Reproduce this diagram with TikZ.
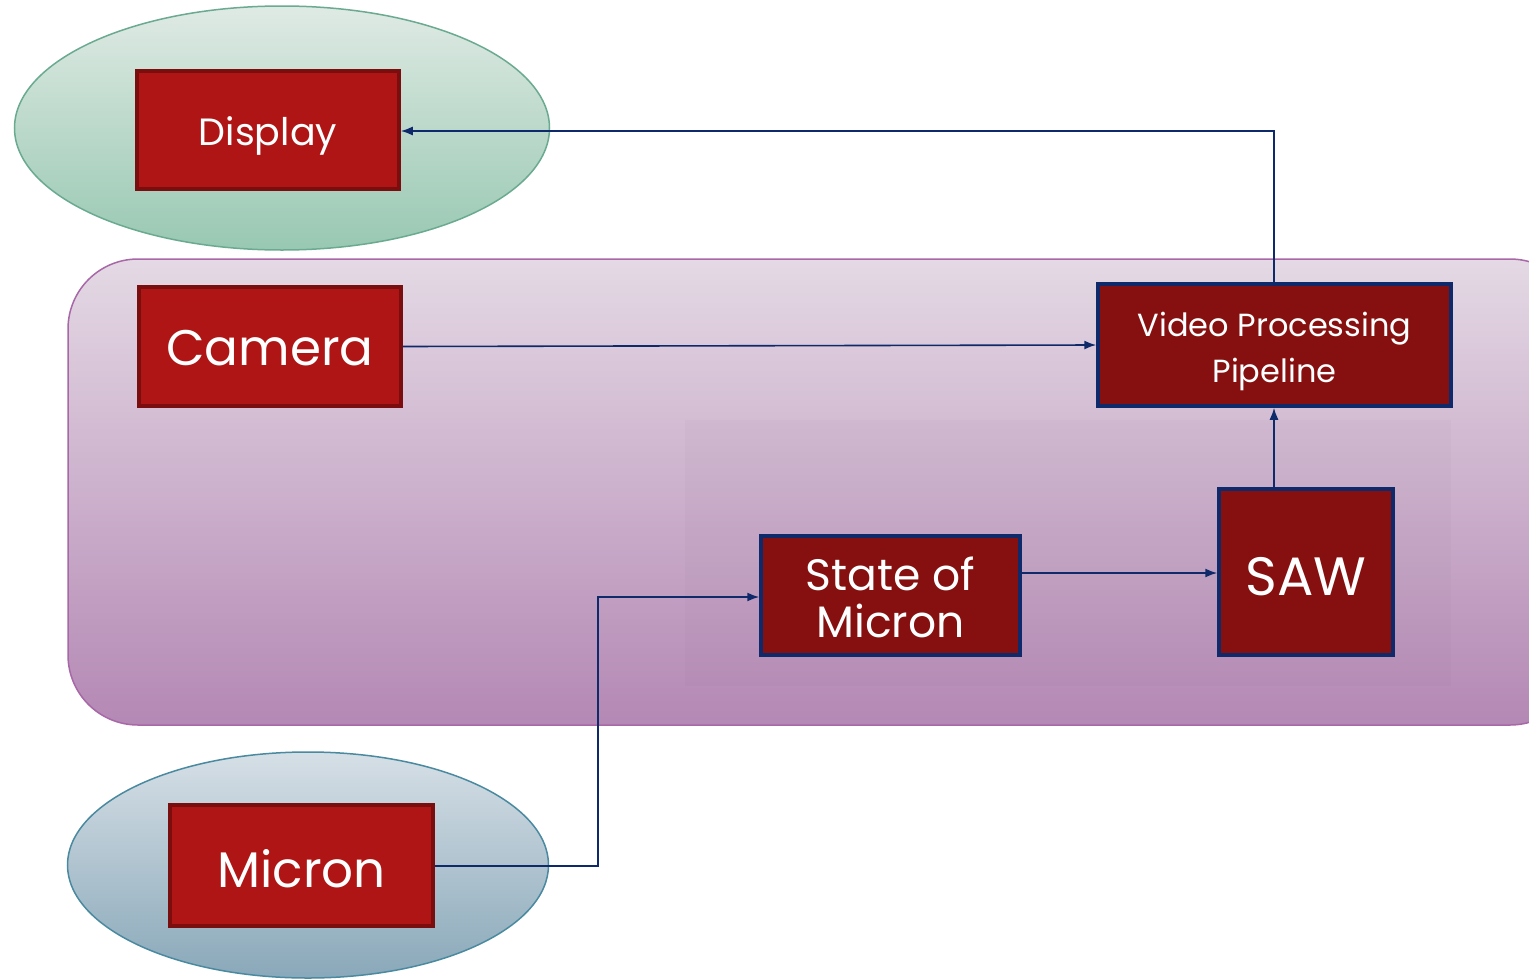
\documentclass[tikz,border=0pt]{standalone}
\usepackage{fontspec}
\setmainfont{Poppins}
\usetikzlibrary{shapes.geometric,arrows.meta}
\definecolor{navy}{HTML}{0F2A6A}
\definecolor{redA}{HTML}{B01515}
\definecolor{redAb}{HTML}{7A0E0E}
\definecolor{redB}{HTML}{86100F}
\definecolor{purpBorder}{HTML}{A868A8}
\definecolor{purpTop}{HTML}{E4D9E4}
\definecolor{purpBot}{HTML}{B488B4}
\definecolor{greenBorder}{HTML}{6AAA90}
\definecolor{greenTop}{HTML}{DFEAE4}
\definecolor{greenBot}{HTML}{98C8B2}
\definecolor{blueBorder}{HTML}{4A8AA0}
\definecolor{blueTop}{HTML}{D6DFE6}
\definecolor{blueBot}{HTML}{89A8B9}
\tikzset{
  boxA/.style={rectangle, fill=redA, draw=redAb, line width=3.5pt, inner sep=0pt},
  boxB/.style={rectangle, fill=redB, draw=navy, line width=3.5pt, inner sep=0pt},
  txt/.style={text=white, align=center, inner sep=0pt},
  conn/.style={draw=navy, line width=1.6pt, -{Latex[length=12pt,width=9pt]}},
  ell/.style={ellipse, inner sep=0pt, line width=1.5pt},
}
\begin{document}
\begin{tikzpicture}[x=1pt,y=-1pt]
\useasboundingbox (0,0) rectangle (1529,980);
\clip (0,0) rectangle (1529,980);
\fill[white] (0,0) rectangle (1529,980);
% big rounded container
\draw[line width=1.5pt, draw=purpBorder, rounded corners=70pt, top color=purpTop, bottom color=purpBot] (68,259) rectangle (1580,725);
% inner subtle rectangle
\fill[purpBot!60!black, opacity=0.035] (685,420) rectangle (1451,686);
% ellipses
\node[ell, minimum width=535pt, minimum height=244pt, draw=greenBorder, top color=greenTop, bottom color=greenBot] (dispell) at (282,128) {};
\node[ell, minimum width=481pt, minimum height=226pt, draw=blueBorder, top color=blueTop, bottom color=blueBot] (micell) at (308,865) {};
% boxes
\node[boxA, minimum width=262pt, minimum height=118pt,
  label={[txt, yshift=-6pt, font=\fontsize{38}{44}\selectfont]center:Display}] (display) at (268,130) {};
\node[boxA, minimum width=262pt, minimum height=119pt,
  label={[txt, yshift=-2pt, font=\fontsize{50}{58}\selectfont]center:Camera}] (camera) at (270,346.5) {};
\node[boxA, minimum width=263pt, minimum height=121pt,
  label={[txt, yshift=-3pt, font=\fontsize{50}{58}\selectfont]center:Micron}] (micron) at (301.5,865.5) {};
\node[boxB, minimum width=353pt, minimum height=122pt,
  label={[txt, yshift=-6pt, font=\fontsize{32}{46}\selectfont]center:Video Processing\\Pipeline}] (vpp) at (1274.5,345) {};
\node[boxB, minimum width=174pt, minimum height=166pt,
  label={[txt, yshift=-5pt, font=\fontsize{54}{60}\selectfont]center:SAW}] (saw) at (1306,572) {};
\node[boxB, minimum width=259pt, minimum height=119pt,
  label={[txt, yshift=-2pt, font=\fontsize{44}{47}\selectfont]center:State of\\Micron}] (som) at (890.5,595.5) {};
% connectors
\coordinate (c1) at (1274,131);
\coordinate (x1) at (1274,0);
\coordinate (y1) at (0,573);
\coordinate (y2) at (0,597);
\coordinate (c2) at (598,866);
\coordinate (c3) at (598,597);
\draw[conn] (vpp.north -| c1) -- (c1) -- (display.east |- c1);
\draw[conn] (camera.east) -- (vpp.west);
\draw[conn] (saw.north -| x1) -- (vpp.south -| x1);
\draw[conn] (som.east |- y1) -- (saw.west |- y1);
\draw[conn] (micron.east |- c2) -- (c2) -- (c3) -- (som.west |- y2);
\end{tikzpicture}
\end{document}
